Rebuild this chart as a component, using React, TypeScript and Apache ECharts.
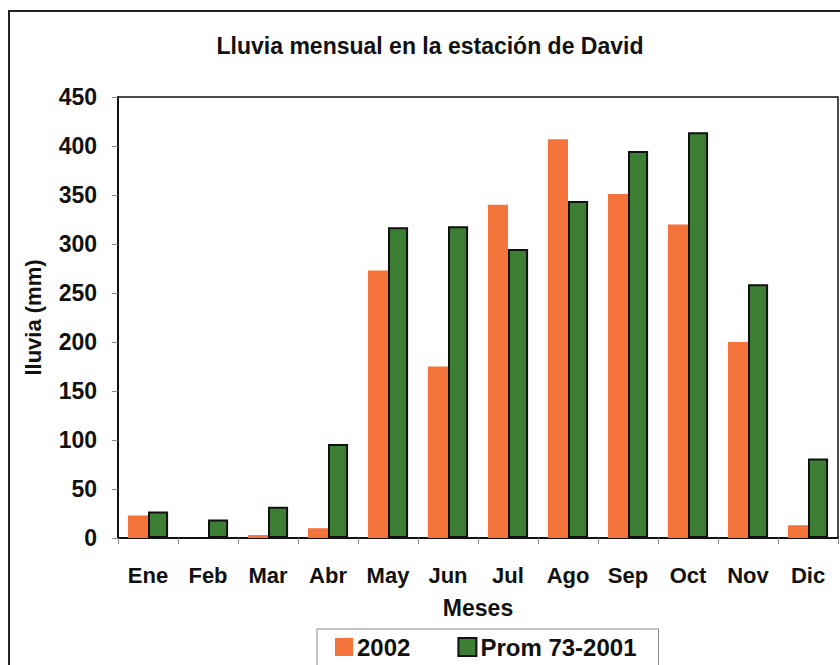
import React, { useEffect, useRef } from "react";
import * as echarts from "echarts";

const months = ["Ene", "Feb", "Mar", "Abr", "May", "Jun", "Jul", "Ago", "Sep", "Oct", "Nov", "Dic"];
const rain2002 = [23, 0, 3, 10, 273, 175, 340, 407, 351, 320, 200, 13];
const prom7301 = [27, 19, 32, 96, 317, 318, 295, 344, 395, 414, 259, 81];
const seriesNames = ["2002", "Prom 73-2001"];
const titleText = "Lluvia mensual en la estación de David";
const yName = "lluvia (mm)";
const xName = "Meses";

const FONT = "'Liberation Sans', Arial, sans-serif";
const ORANGE = "#f4733a";
const GREEN = "#3b7e34";

export default function App() {
  const ref = useRef<HTMLDivElement>(null);
  useEffect(() => {
    if (!ref.current) return;
    const chart = echarts.init(ref.current, undefined, { renderer: "svg" });
    chart.setOption({
      animation: false,
      backgroundColor: "#ffffff",
      textStyle: { fontFamily: FONT },
      graphic: [
        {
          type: "rect",
          shape: { x: 9, y: 11, width: 900, height: 700 },
          style: { fill: "none", stroke: "#222", lineWidth: 2 },
          silent: true,
          z: -10,
        },
        {
          type: "text",
          x: 430,
          y: 46,
          style: {
            text: titleText,
            fontFamily: FONT,
            fontWeight: "bold",
            fontSize: 23,
            fill: "#111",
            textAlign: "center",
            textVerticalAlign: "middle",
          },
        },
      ],
      legend: {
        left: 317,
        top: 629,
        padding: [6, 22, 20, 18],
        itemWidth: 18,
        itemHeight: 18,
        itemGap: 47,
        borderColor: "#888",
        borderWidth: 1,
        backgroundColor: "#fff",
        textStyle: { fontFamily: FONT, fontWeight: "bold", fontSize: 24, color: "#111", padding: [0, 0, 0, -1] },
        data: [
          { name: seriesNames[0], icon: "rect", itemStyle: { color: ORANGE, borderWidth: 0 } },
          { name: seriesNames[1], icon: "rect", itemStyle: { color: GREEN, borderColor: "#111", borderWidth: 2 } },
        ],
      },
      grid: {
        left: 118,
        top: 97,
        right: 2,
        bottom: 127,
        show: true,
        borderColor: "#111",
        borderWidth: 1.5,
        containLabel: false,
      },
      xAxis: {
        type: "category",
        data: months,
        name: xName,
        nameLocation: "middle",
        nameGap: 58,
        nameTextStyle: { fontFamily: FONT, fontWeight: "bold", fontSize: 23, color: "#111" },
        axisLine: { lineStyle: { color: "#111", width: 2 } },
        axisTick: { show: true, inside: false, length: 6, lineStyle: { color: "#888", width: 1 } },
        axisLabel: { fontFamily: FONT, fontWeight: "bold", fontSize: 22, color: "#111", margin: 26, interval: 0 },
      },
      yAxis: {
        type: "value",
        min: 0,
        max: 450,
        interval: 50,
        name: yName,
        nameLocation: "middle",
        nameGap: 74,
        nameRotate: 90,
        nameTextStyle: { fontFamily: FONT, fontWeight: "bold", fontSize: 22, color: "#111" },
        axisLine: { show: true, lineStyle: { color: "#111", width: 2 } },
        axisTick: { show: true, inside: false, length: 6, lineStyle: { color: "#888", width: 1 } },
        axisLabel: { fontFamily: FONT, fontWeight: "bold", fontSize: 23, color: "#111", margin: 21 },
        splitLine: { show: false },
      },
      series: [
        {
          name: seriesNames[0],
          type: "bar",
          data: rain2002,
          barGap: "0%",
          barCategoryGap: "33%",
          itemStyle: { color: ORANGE },
        },
        {
          name: seriesNames[1],
          type: "bar",
          data: prom7301,
          barGap: "0%",
          barCategoryGap: "33%",
          itemStyle: { color: GREEN, borderColor: "#111", borderWidth: 2 },
        },
      ],
    });
    return () => chart.dispose();
  }, []);
  return (
    <div
      ref={ref}
      style={{ position: "absolute", left: 0, top: 0, width: 840, height: 665 }}
    />
  );
}
